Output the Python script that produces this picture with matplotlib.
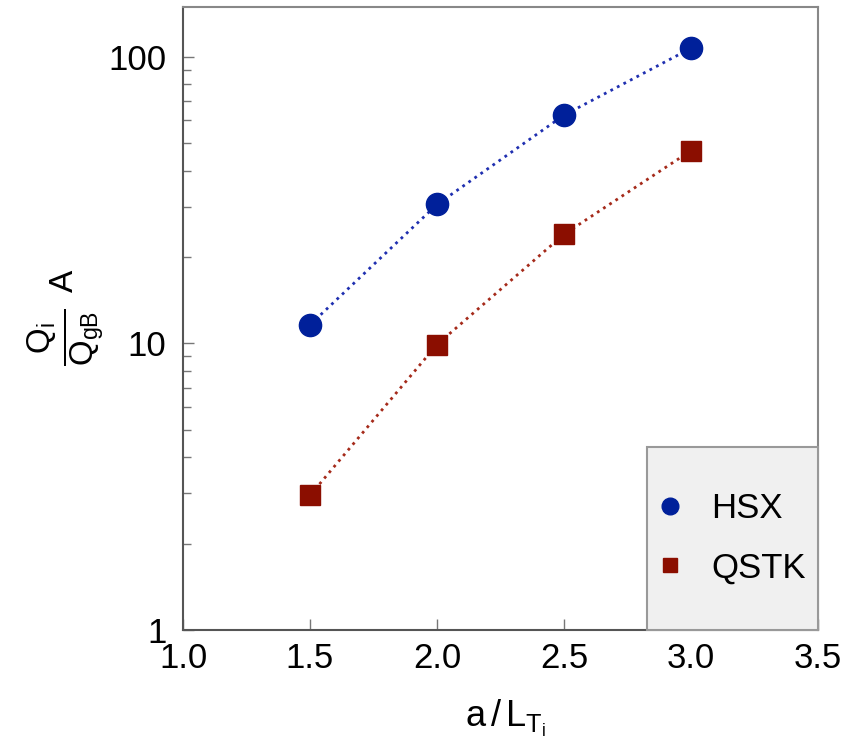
import matplotlib.pyplot as plt
from matplotlib.patches import Rectangle

plt.rcParams['font.family'] = ['Liberation Sans', 'DejaVu Sans']
plt.rcParams['mathtext.fontset'] = 'custom'
plt.rcParams['mathtext.rm'] = 'Liberation Sans'
plt.rcParams['mathtext.it'] = 'Liberation Sans'

a_over_LT = [1.5, 2.0, 2.5, 3.0]
hsx_flux = [11.6, 30.5, 62.5, 107.0]
qstk_flux = [2.95, 9.9, 24.0, 47.0]

x_ticks = [1.0, 1.5, 2.0, 2.5, 3.0, 3.5]

fig = plt.figure(figsize=(8.66, 7.42), dpi=100)
ax = fig.add_axes([183 / 866, 1 - 630 / 742, (818 - 183) / 866, (630 - 7) / 742])

ax.plot(a_over_LT, hsx_flux, linestyle=':', color='#1f2fb0', lw=2,
        marker='o', markersize=16, markerfacecolor='#00209a',
        markeredgecolor='#00209a', label='HSX')
ax.plot(a_over_LT, qstk_flux, linestyle=':', color='#a52a1a', lw=2,
        marker='s', markersize=14, markerfacecolor='#8b0e00',
        markeredgecolor='#8b0e00', label='QSTK')

ax.set_yscale('log')
ax.set_ylim(1, 149)
ax.set_xlim(1.0, 3.5)
ax.set_xticks(x_ticks)
ax.set_xticklabels([f'{v:.1f}' for v in x_ticks])
ax.set_yticks([1, 10, 100])
ax.set_yticklabels(['1', '10', '100'])

ax.tick_params(axis='both', which='both', direction='in', labelsize=25,
               color='#777777', top=False, right=False)
ax.tick_params(axis='both', which='major', length=8, width=1)
ax.tick_params(axis='y', which='minor', length=6, width=1)
ax.tick_params(axis='x', pad=9)
ax.tick_params(axis='y', pad=12)
for s in ax.spines.values():
    s.set_color('#888888')
    s.set_linewidth(1.5)
ax.spines['left'].set_color('#555555')
ax.spines['bottom'].set_color('#555555')

# axis labels
fig.text(505 / 866, 1 - 718 / 742, r'$\mathrm{a}\,/\,\mathrm{L}_{\mathrm{T}_\mathrm{i}}$',
         fontsize=26, ha='center', va='center')
fig.text(66 / 866, 1 - 337 / 742, r'$\frac{\mathrm{Q}_\mathrm{i}}{\mathrm{Q}_\mathrm{gB}}$',
         fontsize=34, rotation=90, ha='center', va='center')
fig.text(64 / 866, 1 - 281 / 742, 'A', fontsize=24, rotation=90,
         ha='center', va='center')

# legend box
x0 = (647 - 183) / 635
y1 = (630 - 447) / 623
ax.add_patch(Rectangle((x0, 0), 1 - x0, y1, transform=ax.transAxes,
                       facecolor='#f0f0f0', edgecolor='#999999', lw=1.5,
                       zorder=3, clip_on=False))
leg = ax.legend(loc='center', bbox_to_anchor=(x0, 0, 1 - x0, y1), fontsize=25,
                frameon=False, handlelength=0.6, handletextpad=0.9,
                labelspacing=0.75, borderaxespad=0.0, numpoints=1,
                markerscale=0.75)
leg.set_zorder(4)
for h in leg.legend_handles:
    h.set_linestyle('None')

fig.savefig('out.png', dpi=100)
